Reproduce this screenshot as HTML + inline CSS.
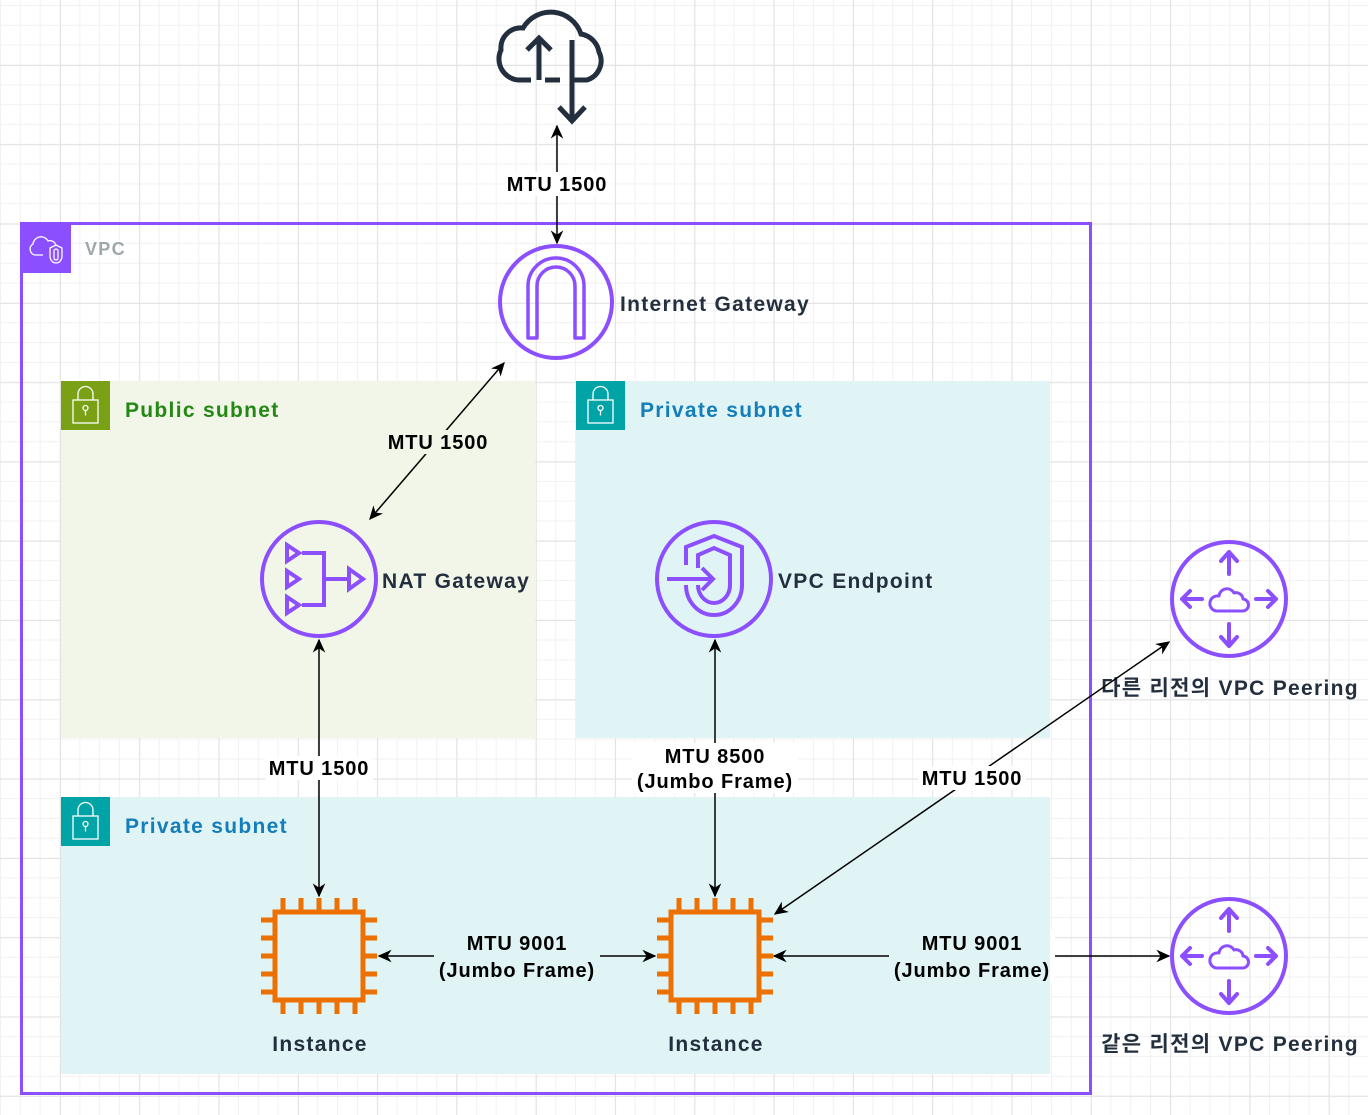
<!DOCTYPE html>
<html><head><meta charset="utf-8">
<style>
html,body{margin:0;padding:0;}
body{width:1368px;height:1115px;overflow:hidden;background-color:#fff;
background-image:
linear-gradient(to right,#e3e3e3 1px,transparent 1px),
linear-gradient(to bottom,#e3e3e3 1px,transparent 1px),
linear-gradient(to right,#f1f1f1 1px,transparent 1px),
linear-gradient(to bottom,#f1f1f1 1px,transparent 1px);
background-size:79.3px 79.3px,79.3px 79.3px,19.83px 19.83px,19.83px 19.83px;
background-position:60px 0,0 65px,0px 0,0 5px;
font-family:"Liberation Sans","Noto Sans CJK KR",sans-serif;}
svg{position:absolute;left:0;top:0;}
text{font-family:"Liberation Sans","Noto Sans CJK KR",sans-serif;font-weight:bold;}
.n{letter-spacing:1.3px;}
.e{letter-spacing:0.9px;}
</style></head><body>
<svg width="1368" height="1115" viewBox="0 0 1368 1115" xmlns="http://www.w3.org/2000/svg">
<defs>
<marker id="ah" viewBox="0 0 10 10" refX="9" refY="5" markerWidth="14" markerHeight="14" markerUnits="userSpaceOnUse" orient="auto-start-reverse">
<path d="M0,0.5 L10,5 L0,9.5 L3,5 Z" fill="#000"/>
</marker>
</defs>

<rect x="61" y="381" width="474" height="357" fill="#f2f6e8"/>
<rect x="576" y="381" width="474" height="357" fill="#e0f4f6"/>
<rect x="61" y="797" width="989" height="277" fill="#e0f4f6"/>

<rect x="21.5" y="223.5" width="1069" height="870" fill="none" stroke="#8c4fff" stroke-width="3"/>
<rect x="21" y="223" width="50" height="50" fill="#8c4fff"/>
<g fill="none" stroke="#fff" stroke-width="1.3">
<path d="M43,255 h-8 a6,6 0 0 1 -2,-11 a8,8 0 0 1 15,-3 a6,6 0 0 1 8,5"/>
<path d="M50,248 l6,-3 l6,3 v8 a6,7 0 0 1 -6,7 a6,7 0 0 1 -6,-7 z"/>
<rect x="54" y="249" width="4" height="11" rx="2"/>
</g>
<text x="85" y="255" font-size="18" fill="#9ea7a9" class="n">VPC</text>

<rect x="61" y="381" width="49" height="49" fill="#7aa116"/>
<g fill="none" stroke="#fff" stroke-width="1.3"><rect x="73" y="400" width="25" height="23"/><path d="M78,400 v-6 a7.5,7.5 0 0 1 15,0 v6"/><circle cx="85.5" cy="408" r="2.5"/><path d="M85.5,410.5 v5"/></g>
<text x="125" y="417" font-size="21" fill="#248814" class="n">Public subnet</text>

<rect x="576" y="381" width="49" height="49" fill="#00a4a6"/>
<g fill="none" stroke="#fff" stroke-width="1.3"><rect x="588" y="400" width="25" height="23"/><path d="M593,400 v-6 a7.5,7.5 0 0 1 15,0 v6"/><circle cx="600.5" cy="408" r="2.5"/><path d="M600.5,410.5 v5"/></g>
<text x="640" y="417" font-size="21" fill="#147eba" class="n">Private subnet</text>

<rect x="61" y="797" width="49" height="49" fill="#00a4a6"/>
<g fill="none" stroke="#fff" stroke-width="1.3"><rect x="73" y="816" width="25" height="23"/><path d="M78,816 v-6 a7.5,7.5 0 0 1 15,0 v6"/><circle cx="85.5" cy="824" r="2.5"/><path d="M85.5,826.5 v5"/></g>
<text x="125" y="833" font-size="21" fill="#147eba" class="n">Private subnet</text>

<g fill="none" stroke="#232f3e" stroke-width="5">
<path d="M531,80 h-12 a21,21 0 0 1 -18,-30 a20,20 0 0 1 22,-22 a32,32 0 0 1 58,6 a22,22 0 0 1 18,18 a20,20 0 0 1 -12,28 h-16"/>
<path d="M539,80 v-42 M527,50 l12,-12 l12,12"/>
<path d="M545,80 h15"/>
<path d="M572,40 v80 M559,107 l13,14 l13,-14"/>
</g>

<circle cx="556" cy="302" r="56" fill="none" stroke="#8c4fff" stroke-width="4"/>
<path d="M528,338 v-52 a28,28 0 0 1 56,0 v52 h-9 v-52 a19,19 0 0 0 -38,0 v52 z" fill="none" stroke="#8c4fff" stroke-width="3.5" stroke-linejoin="round"/>
<text x="620" y="311" font-size="21" fill="#232f3e" class="n">Internet Gateway</text>

<circle cx="319" cy="579" r="57" fill="none" stroke="#8c4fff" stroke-width="4"/>
<g fill="none" stroke="#8c4fff" stroke-width="4">
<path d="M287,545 l12,8 l-12,8 z M287,571 l12,8 l-12,8 z M287,597 l12,8 l-12,8 z"/>
<path d="M302,553 h22 v52 h-22 M324,579 h25 M349,569 l14,10 l-14,10 z"/>
</g>
<text x="382" y="588" font-size="21" fill="#232f3e" class="n">NAT Gateway</text>

<circle cx="714" cy="579" r="57" fill="none" stroke="#8c4fff" stroke-width="4"/>
<g fill="none" stroke="#8c4fff" stroke-width="4">
<path d="M686,565 v-18 l28,-11 l28,11 v38 a28,30 0 0 1 -56,0"/>
<path d="M698,568 v-13 l16,-7 l16,7 v30 a16,18 0 0 1 -32,0"/>
<path d="M667,579 h45 M702,568 l11,11 l-11,11"/>
</g>
<text x="778" y="588" font-size="21" fill="#232f3e" class="n">VPC Endpoint</text>

<g id="peer">
<circle cx="1229" cy="599" r="57" fill="none" stroke="#8c4fff" stroke-width="4"/>
<g fill="none" stroke="#8c4fff" stroke-width="4" stroke-linecap="round" stroke-linejoin="round">
<path d="M1229,552 v22 M1221,561 l8,-9 l8,9"/>
<path d="M1229,624 v22 M1221,637 l8,9 l8,-9"/>
<path d="M1182,599 h20 M1190,591 l-8,8 l8,8"/>
<path d="M1256,599 h20 M1268,591 l8,8 l-8,8"/>
<path d="M1216,611 h26 a6,6 0 0 0 1,-12 a7,7 0 0 0 -9,-6 a8,8 0 0 0 -15,3 a7.5,7.5 0 0 0 -3,15 z" stroke-width="3"/>
</g>
</g>
<use href="#peer" transform="translate(0,357)"/>
<text x="1230" y="695" font-size="21" fill="#232f3e" text-anchor="middle" class="n">다른 리전의 VPC Peering</text>
<text x="1230" y="1051" font-size="21" fill="#232f3e" text-anchor="middle" class="n">같은 리전의 VPC Peering</text>

<g id="chip" fill="none" stroke="#ed7100" stroke-width="5">
<rect x="275" y="912" width="88" height="88"/>
<path d="M283,912 v-14 M301,912 v-14 M319,912 v-14 M337,912 v-14 M355,912 v-14"/>
<path d="M283,1000 v14 M301,1000 v14 M319,1000 v14 M337,1000 v14 M355,1000 v14"/>
<path d="M275,920 h-14 M275,938 h-14 M275,956 h-14 M275,974 h-14 M275,992 h-14"/>
<path d="M363,920 h14 M363,938 h14 M363,956 h14 M363,974 h14 M363,992 h14"/>
</g>
<use href="#chip" transform="translate(396,0)"/>
<text x="320" y="1051" font-size="21" fill="#232f3e" text-anchor="middle" class="n">Instance</text>
<text x="716" y="1051" font-size="21" fill="#232f3e" text-anchor="middle" class="n">Instance</text>

<g stroke="#000" stroke-width="1.5" fill="none">
<line x1="557" y1="126" x2="557" y2="243" marker-start="url(#ah)" marker-end="url(#ah)"/>
<line x1="370" y1="519" x2="504" y2="363" marker-start="url(#ah)" marker-end="url(#ah)"/>
<line x1="319" y1="640" x2="319" y2="896" marker-start="url(#ah)" marker-end="url(#ah)"/>
<line x1="715" y1="640" x2="715" y2="896" marker-start="url(#ah)" marker-end="url(#ah)"/>
<line x1="379" y1="956" x2="655" y2="956" marker-start="url(#ah)" marker-end="url(#ah)"/>
<line x1="774" y1="956" x2="1169" y2="956" marker-start="url(#ah)" marker-end="url(#ah)"/>
<line x1="775" y1="914" x2="1169" y2="642" marker-start="url(#ah)" marker-end="url(#ah)"/>
</g>

<g font-size="20" fill="#000" text-anchor="middle" class="e">
<rect x="503" y="172" width="108" height="24" fill="#fff"/>
<text x="557" y="191">MTU 1500</text>
<rect x="384" y="430" width="108" height="24" fill="#f2f6e8"/>
<text x="438" y="449">MTU 1500</text>
<rect x="265" y="756" width="108" height="24" fill="#fff"/>
<text x="319" y="775">MTU 1500</text>
<rect x="632" y="743" width="166" height="50" fill="#fff"/>
<text x="715" y="763">MTU 8500</text>
<text x="715" y="788">(Jumbo Frame)</text>
<rect x="918" y="766" width="108" height="24" fill="#fff"/>
<text x="972" y="785">MTU 1500</text>
<rect x="434" y="930" width="166" height="52" fill="#e0f4f6"/>
<text x="517" y="950">MTU 9001</text>
<text x="517" y="977">(Jumbo Frame)</text>
<rect x="889" y="930" width="161" height="52" fill="#e0f4f6"/>
<rect x="1050" y="930" width="5" height="52" fill="#fff"/>
<text x="972" y="950">MTU 9001</text>
<text x="972" y="977">(Jumbo Frame)</text>
</g>
</svg>
</body></html>
